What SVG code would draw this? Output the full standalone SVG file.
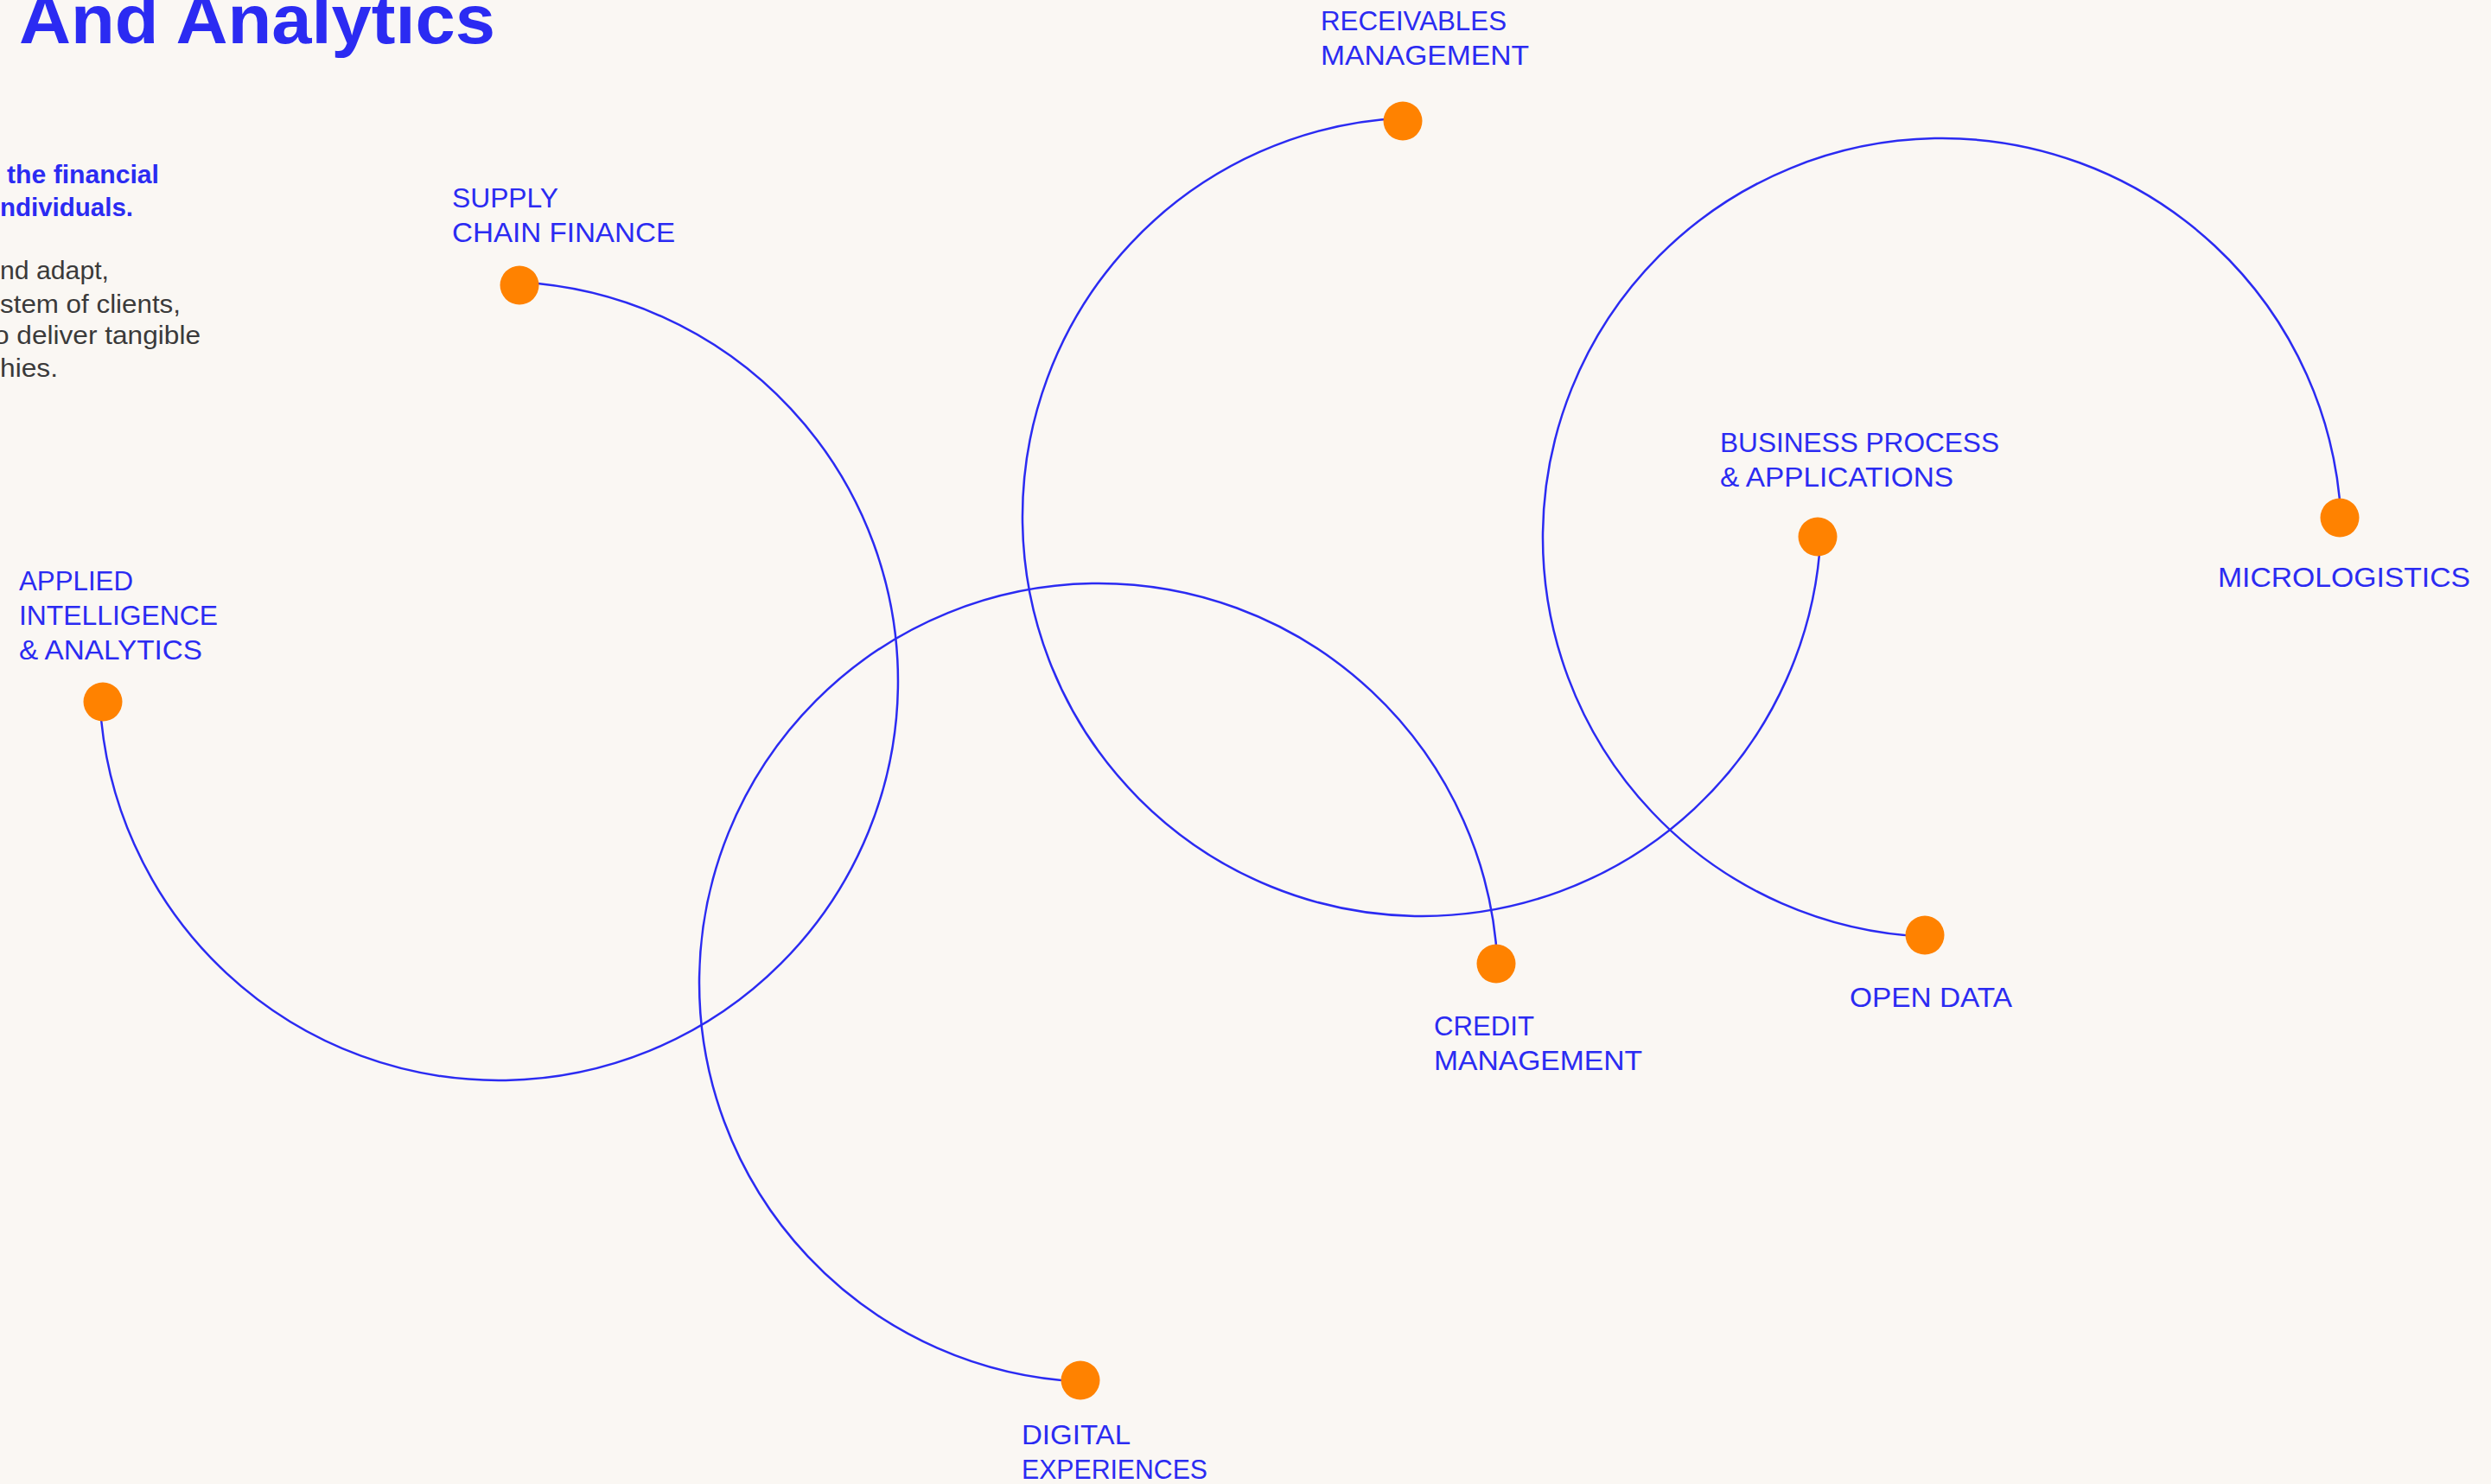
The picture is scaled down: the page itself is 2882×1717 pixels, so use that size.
<svg xmlns="http://www.w3.org/2000/svg" width="2882" height="1717" viewBox="0 0 2882 1717">
<style>
.lbl{font-family:"Liberation Sans",Arial,sans-serif;font-size:32px;fill:#2B2BF2}
.dot{fill:#FF8200}
.arc{fill:none;stroke:#2B2BF2;stroke-width:2.5}
.title{font-family:"Liberation Sans",Arial,sans-serif;font-size:80px;font-weight:700;fill:#2B2BF2}
.lead{font-family:"Liberation Sans",Arial,sans-serif;font-size:30px;font-weight:700;fill:#2B2BF2}
.body{font-family:"Liberation Sans",Arial,sans-serif;font-size:30px;fill:#3A3A3A}
</style>
<rect width="2882" height="1717" fill="#FAF7F3"/>
<g id="intro">
<text class="title" x="22" y="50" textLength="551" lengthAdjust="spacingAndGlyphs">And Analytics</text>
<text class="lead" x="8" y="212" textLength="176" lengthAdjust="spacingAndGlyphs">the financial</text>
<text class="lead" x="0" y="250" textLength="154" lengthAdjust="spacingAndGlyphs">ndividuals.</text>
<text class="body" x="0" y="323" textLength="126" lengthAdjust="spacingAndGlyphs">nd adapt,</text>
<text class="body" x="0" y="362" textLength="209" lengthAdjust="spacingAndGlyphs">stem of clients,</text>
<text class="body" x="-7" y="398" textLength="239" lengthAdjust="spacingAndGlyphs">o deliver tangible</text>
<text class="body" x="0" y="436" textLength="67" lengthAdjust="spacingAndGlyphs">hies.</text>
</g>
<g id="connectors">
<path class="arc" d="M601.2,326.6 A462,462 0 1 1 115.6,812.2"/>
<path class="arc" d="M1249.9,1598.5 A462,462 0 1 1 1732.5,1114.9"/>
<path class="arc" d="M1622.8,136.5 A462,462 0 1 0 2106.4,621.2"/>
<path class="arc" d="M2708.4,598.9 A462,462 0 1 0 2226.9,1083.6"/>
</g>
<g id="supply-chain-finance">
<circle class="dot" cx="601" cy="330" r="22.5"/>
<text class="lbl" x="523" y="240" textLength="123" lengthAdjust="spacingAndGlyphs">SUPPLY</text>
<text class="lbl" x="523" y="280" textLength="258" lengthAdjust="spacingAndGlyphs">CHAIN FINANCE</text>
</g>
<g id="applied-intelligence">
<circle class="dot" cx="119" cy="812" r="22.5"/>
<text class="lbl" x="22" y="683" textLength="132" lengthAdjust="spacingAndGlyphs">APPLIED</text>
<text class="lbl" x="22" y="723" textLength="230" lengthAdjust="spacingAndGlyphs">INTELLIGENCE</text>
<text class="lbl" x="22" y="763" textLength="212" lengthAdjust="spacingAndGlyphs">&amp; ANALYTICS</text>
</g>
<g id="receivables-management">
<circle class="dot" cx="1623" cy="140" r="22.5"/>
<text class="lbl" x="1528" y="35" textLength="215" lengthAdjust="spacingAndGlyphs">RECEIVABLES</text>
<text class="lbl" x="1528" y="75" textLength="241" lengthAdjust="spacingAndGlyphs">MANAGEMENT</text>
</g>
<g id="business-process">
<circle class="dot" cx="2103" cy="621" r="22.5"/>
<text class="lbl" x="1990" y="523" textLength="323" lengthAdjust="spacingAndGlyphs">BUSINESS PROCESS</text>
<text class="lbl" x="1990" y="563" textLength="270" lengthAdjust="spacingAndGlyphs">&amp; APPLICATIONS</text>
</g>
<g id="micrologistics">
<circle class="dot" cx="2707" cy="599" r="22.5"/>
<text class="lbl" x="2566" y="679" textLength="292" lengthAdjust="spacingAndGlyphs">MICROLOGISTICS</text>
</g>
<g id="credit-management">
<circle class="dot" cx="1731" cy="1115" r="22.5"/>
<text class="lbl" x="1659" y="1198" textLength="116" lengthAdjust="spacingAndGlyphs">CREDIT</text>
<text class="lbl" x="1659" y="1238" textLength="241" lengthAdjust="spacingAndGlyphs">MANAGEMENT</text>
</g>
<g id="open-data">
<circle class="dot" cx="2227" cy="1082" r="22.5"/>
<text class="lbl" x="2140" y="1165" textLength="188" lengthAdjust="spacingAndGlyphs">OPEN DATA</text>
</g>
<g id="digital-experiences">
<circle class="dot" cx="1250" cy="1597" r="22.5"/>
<text class="lbl" x="1182" y="1671" textLength="126" lengthAdjust="spacingAndGlyphs">DIGITAL</text>
<text class="lbl" x="1182" y="1711" textLength="215" lengthAdjust="spacingAndGlyphs">EXPERIENCES</text>
</g>
</svg>
